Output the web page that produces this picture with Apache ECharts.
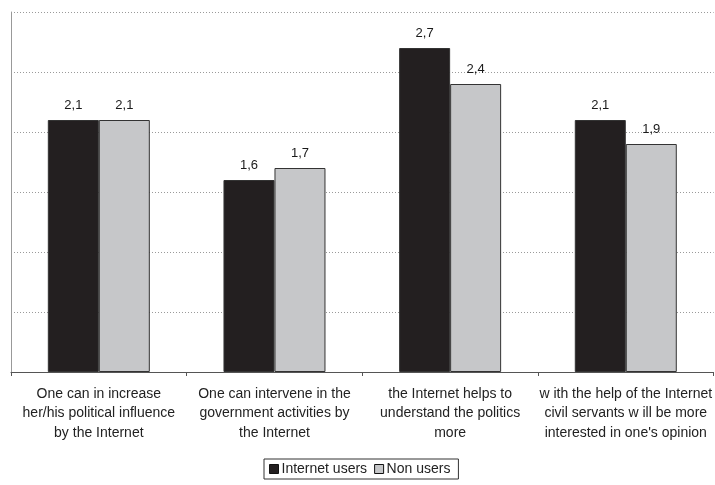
<!DOCTYPE html>
<html>
<head>
<meta charset="utf-8">
<script src="https://cdn.jsdelivr.net/npm/echarts@6/dist/echarts.min.js"></script>
<style>
  html, body { margin: 0; padding: 0; background: #fff; }
  #chart { width: 715px; height: 485px; }
</style>
</head>
<body>
<div id="chart"></div>
<script>
// Statements about the Internet and politics
var categories = [
  "One can in increase\nher/his political influence\nby the Internet",
  "One can intervene in the\ngovernment activities by\nthe Internet",
  "the Internet helps to\nunderstand the politics\nmore",
  "w ith the help of the Internet\ncivil servants w ill be more\ninterested in one's opinion"
];
var seriesNames = ["Internet users", "Non users"];
var internetUsers = [2.1, 1.6, 2.7, 2.1];
var nonUsers = [2.1, 1.7, 2.4, 1.9];

var FONT = "'Liberation Sans', Arial, sans-serif";

function commaLabel(p) {
  return p.value.toFixed(1).replace('.', ',');
}

var chart = echarts.init(document.getElementById('chart'), null, { renderer: 'canvas' });
chart.setOption({
  animation: false,
  backgroundColor: '#ffffff',
  textStyle: { fontFamily: FONT },
  grid: { left: 11, right: 0, top: 12, bottom: 113, containLabel: false },
  legend: {
    data: seriesNames,
    left: 264,
    top: 459,
    icon: 'rect',
    itemWidth: 9,
    itemHeight: 9,
    itemGap: 7,
    padding: [3, 8, 3, 5],
    borderColor: '#333333',
    borderWidth: 1,
    itemStyle: { borderColor: '#111111', borderWidth: 1 },
    textStyle: { fontSize: 14, color: '#222222', fontFamily: FONT, padding: [0, 0, 0, -2] }
  },
  xAxis: {
    type: 'category',
    data: categories,
    axisLine: { lineStyle: { color: '#555555', width: 1 } },
    axisTick: { show: true, alignWithLabel: false, length: 4, lineStyle: { color: '#555555' } },
    axisLabel: {
      interval: 0,
      fontSize: 14,
      lineHeight: 19.5,
      color: '#222222',
      margin: 12,
      fontFamily: FONT
    },
    splitLine: { show: false }
  },
  yAxis: {
    type: 'value',
    min: 0,
    max: 3,
    interval: 0.5,
    axisLine: { show: true, lineStyle: { color: '#999999', width: 1 } },
    axisTick: { show: false },
    axisLabel: { show: false },
    splitLine: { show: true, lineStyle: { type: [1, 2], color: '#9a9a9a', width: 1 } }
  },
  series: [
    {
      name: seriesNames[0],
      type: 'bar',
      data: internetUsers,
      barWidth: 51,
      barGap: '0%',
      itemStyle: { color: '#231f20', borderColor: '#333333', borderWidth: 1 },
      label: {
        show: true, position: 'top', distance: 8,
        formatter: commaLabel, fontSize: 13, color: '#1a1a1a', fontFamily: FONT
      }
    },
    {
      name: seriesNames[1],
      type: 'bar',
      data: nonUsers,
      barWidth: 51,
      barGap: '0%',
      itemStyle: { color: '#c6c7c9', borderColor: '#333333', borderWidth: 1 },
      label: {
        show: true, position: 'top', distance: 8,
        formatter: commaLabel, fontSize: 13, color: '#1a1a1a', fontFamily: FONT
      }
    }
  ]
});
</script>
</body>
</html>
